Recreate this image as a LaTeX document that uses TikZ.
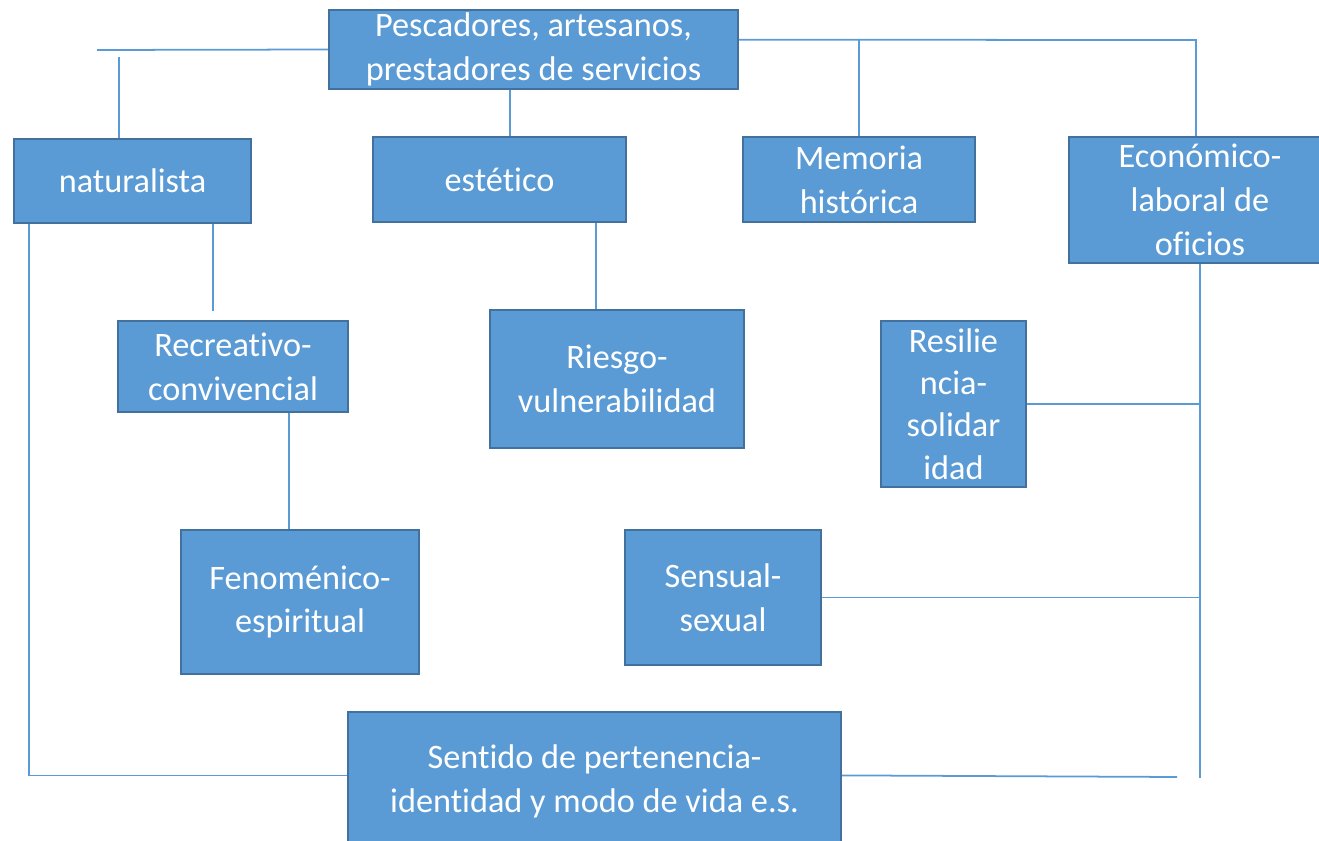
\documentclass[tikz,border=0pt]{standalone}
\usepackage{fontspec}
\setmainfont{Carlito}[RawFeature={-liga,-clig,-calt}]
\usetikzlibrary{calc}
\definecolor{boxblue}{HTML}{5B9BD5}
\definecolor{edgeblue}{HTML}{41719C}

\begin{document}
\begin{tikzpicture}[x=0.02cm,y=-0.02cm,
  box/.style={draw=edgeblue,fill=boxblue,line width=1.4pt,text=white,align=center,inner sep=0pt,font=\fontsize{19.5}{25}\selectfont},
  link/.style={draw=boxblue,line width=1pt}]
\useasboundingbox (0,0) rectangle (1319,841);

\node[box,minimum width=8.18cm,minimum height=1.58cm] (top) at (533.5,49.5) {Pescadores, artesanos,\\prestadores de servicios};
\node[box,minimum width=4.74cm,minimum height=1.68cm] (nat) at (132.5,181) {naturalista};
\node[box,minimum width=5.06cm,minimum height=1.70cm] (est) at (499.5,179.5) {estético};
\node[box,minimum width=4.64cm,minimum height=1.70cm] (mem) at (859,179.5) {Memoria\\histórica};
\node[box,minimum width=5.24cm,minimum height=2.52cm] (eco) at (1200,200) {Económico-\\laboral de\\oficios};
\node[box,minimum width=4.60cm,minimum height=1.82cm] (rec) at (233,366.5) {Recreativo-\\convivencial};
\node[box,minimum width=5.08cm,minimum height=2.76cm] (rie) at (617,379) {Riesgo-\\vulnerabilidad};
\node[box,minimum width=2.90cm,minimum height=3.32cm,font=\fontsize{19.5}{24}\selectfont] (res) at (953.5,404) {Resilie\\ncia-\\solidar\\idad};
\node[box,minimum width=4.76cm,minimum height=2.88cm] (fen) at (300,602) {Fenoménico-\\espiritual};
\node[box,minimum width=3.92cm,minimum height=2.70cm] (sen) at (723,597.5) {Sensual-\\sexual};
\node[box,minimum width=9.86cm,minimum height=2.76cm] (sent) at (594.5,781) {Sentido de pertenencia-\\identidad y modo de vida e.s.};

% free ends and anchor points of the connectors
\coordinate (tl) at (97,50);
\coordinate (nt) at (119,57);
\coordinate (tb) at ($(top.south west)!0.443!(top.south east)$);
\coordinate (tr) at ($(top.north east)!0.38!(top.south east)$);
\coordinate (rc) at (1196,40);
\coordinate (nl) at ($(nat.south west)!0.067!(nat.south east)$);
\coordinate (nb) at (213,311);
\coordinate (rv) at ($(rie.north west)!0.417!(rie.north east)$);
\coordinate (rf) at ($(rec.south west)!0.74!(rec.south east)$);
\coordinate (sl) at ($(sent.north west)!0.46!(sent.south west)$);
\coordinate (sr) at ($(sent.north east)!0.46!(sent.south east)$);
\coordinate (ee) at (1200,778);
\coordinate (se) at (1177,777);

\draw[link] (tl) -- (top.west);
\draw[link] (nt) -- (nt |- nat.north);
\draw[link] (tb) -- (tb |- est.north);
\draw[link] (tr) -- (rc) -- (rc |- eco.north);
\draw[link] (mem.north) -- (mem.north |- tr);
\draw[link] (nl) -- (nl |- sl) -- (sl);
\draw[link] (nb |- nat.south) -- (nb);
\draw[link] (rv |- est.south) -- (rv);
\draw[link] (rf) -- (rf |- fen.north);
\draw[link] (eco.south) -- (eco.south |- ee);
\draw[link] (res.east) -- (res.east -| eco.south);
\draw[link] (sen.east) -- (sen.east -| eco.south);
\draw[link] (sr) -- (se);
\end{tikzpicture}
\end{document}
